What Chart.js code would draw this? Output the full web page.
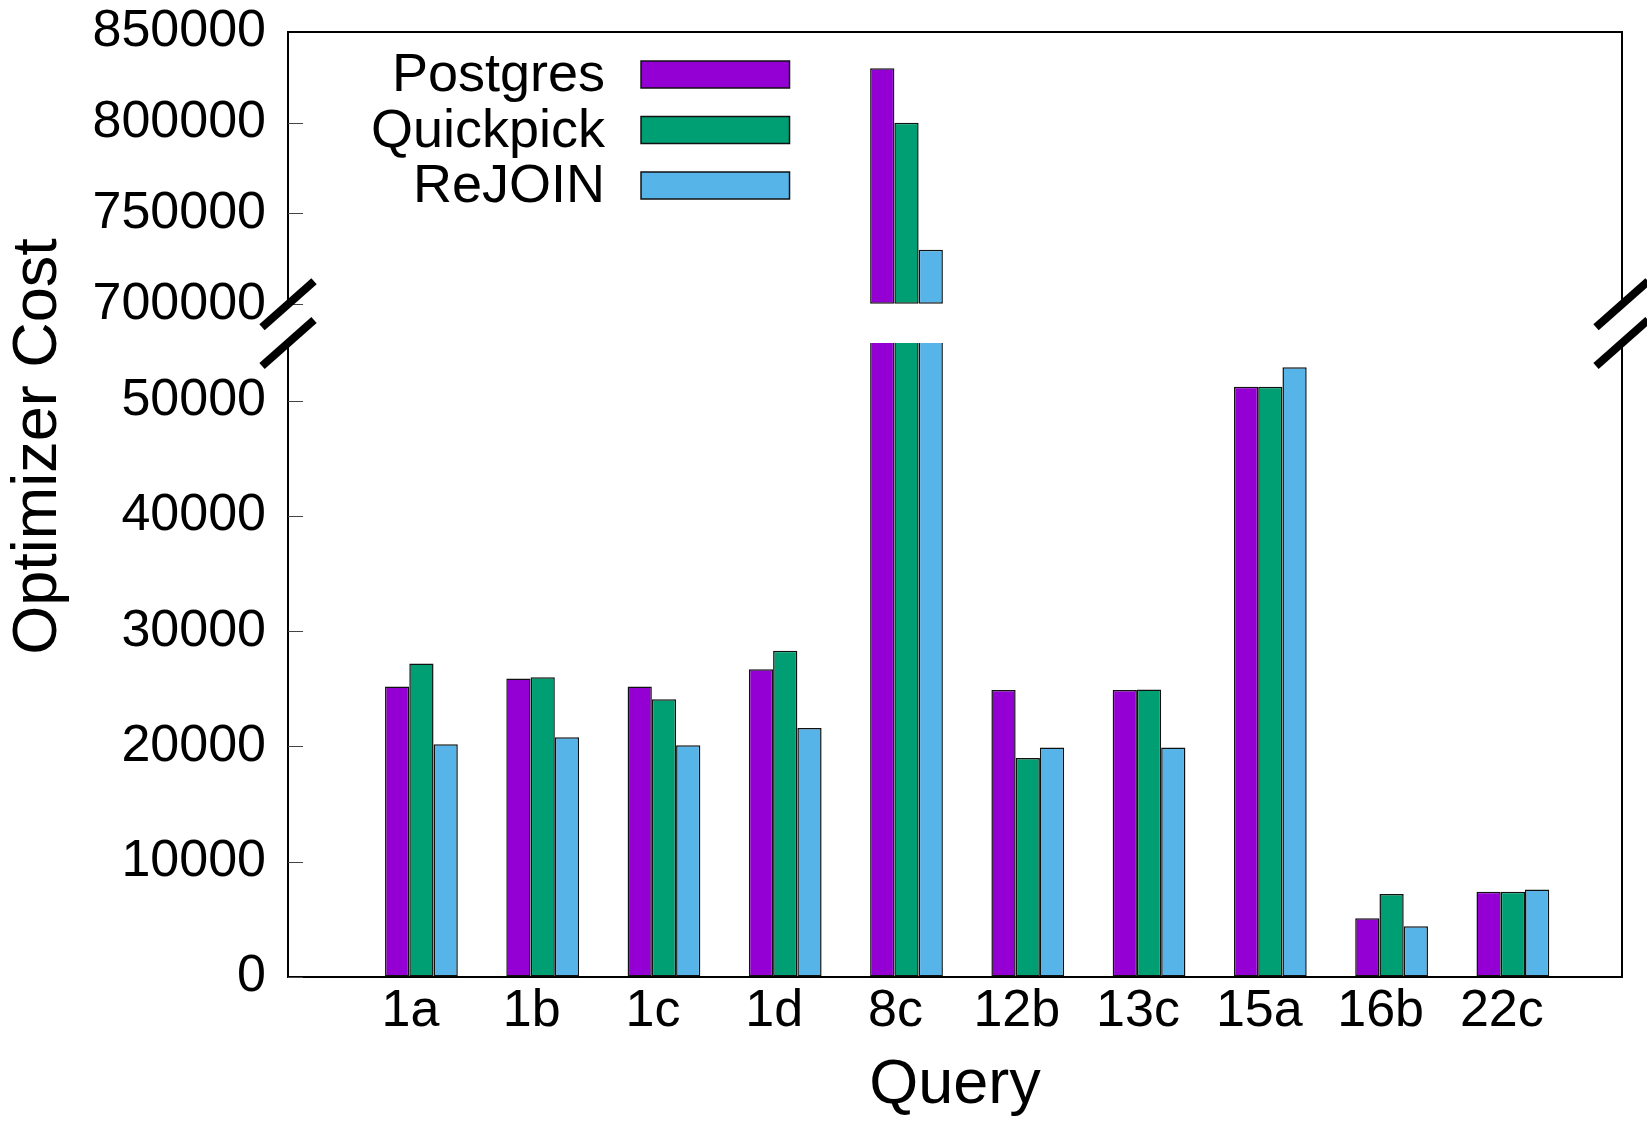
<!DOCTYPE html>
<html>
<head>
<meta charset="utf-8">
<title>Optimizer Cost per Query</title>
<script src="https://cdn.jsdelivr.net/npm/chart.js@4.4.1/dist/chart.umd.min.js"></script>
<style>
  html, body { margin: 0; padding: 0; background: #fff; }
  #wrap { width: 1647px; height: 1127px; }
</style>
</head>
<body>
<div id="wrap"><canvas id="costChart" width="1647" height="1127"></canvas></div>
<script>
// data
var queries   = ['1a', '1b', '1c', '1d', '8c', '12b', '13c', '15a', '16b', '22c'];
var postgres  = [25200, 25900, 25200, 26700, 830000, 24900, 24900, 51200, 5100, 7400];
var quickpick = [27200, 26000, 24100, 28300, 800000, 19000, 24950, 51200, 7200, 7400];
var rejoin    = [20200, 20800, 20100, 21600, 730000, 19900, 19900, 52900, 4400, 7600];

var seriesNames  = ['Postgres', 'Quickpick', 'ReJOIN'];
var seriesColors = ['#9400d3', '#009e73', '#56b4e9'];

// broken y axis: lower and upper range with their tick values
var lowerMin = 0,      lowerMax = 55000;
var upperMin = 700000, upperMax = 850000;
var lowerTicks = [0, 10000, 20000, 30000, 40000, 50000];
var upperTicks = [700000, 750000, 800000, 850000];

var queryPos = queries.map(function (q, i) { return i + 1; });
var FONT = "'Liberation Sans', Arial, Helvetica, sans-serif";

Chart.defaults.font.family = FONT;
Chart.defaults.color = '#000';

var values = [postgres, quickpick, rejoin];
var datasets = [];

// lower panel bars
for (var s = 0; s < values.length; s++) {
    datasets.push({
        label: seriesNames[s],
        data: values[s],
        yAxisID: 'y',
        stack: 's' + s,
        backgroundColor: seriesColors[s],
        borderColor: '#111',
        borderWidth: 1.5,
        borderSkipped: false,
        categoryPercentage: 0.6,
        barPercentage: 1.0
    });
}
// upper panel bars (only values above the break)
for (var s = 0; s < values.length; s++) {
    datasets.push({
        label: seriesNames[s] + ' upper',
        data: values[s].map(function (v) { return v >= upperMin ? v : null; }),
        base: upperMin,
        yAxisID: 'y2',
        stack: 's' + s,
        backgroundColor: seriesColors[s],
        borderColor: '#111',
        borderWidth: 1.5,
        borderSkipped: false,
        categoryPercentage: 0.6,
        barPercentage: 1.0
    });
}

function plainNumber(v) { return String(v); }
function fixedTicks(list) {
    return function (axis) {
        axis.ticks = list.map(function (v) { return { value: v }; });
    };
}

// frame, inward ticks, break marks, key and y title
var decorPlugin = {
    id: 'decor',
    afterDraw: function (chart) {
        var ctx = chart.ctx;
        var area = chart.chartArea;
        var low = chart.scales.y, up = chart.scales.y2;
        ctx.save();

        ctx.strokeStyle = '#444';
        ctx.lineWidth = 1;
        [low, up].forEach(function (sc) {
            sc.ticks.forEach(function (t) {
                var py = Math.round(sc.getPixelForValue(t.value)) + 0.5;
                ctx.beginPath();
                ctx.moveTo(area.left, py);
                ctx.lineTo(area.left + 15, py);
                ctx.stroke();
            });
        });

        ctx.strokeStyle = '#000';
        ctx.lineWidth = 2;
        ctx.beginPath();
        ctx.moveTo(area.left, area.top);
        ctx.lineTo(area.right, area.top);
        ctx.lineTo(area.right, up.bottom);
        ctx.moveTo(area.right, low.top);
        ctx.lineTo(area.right, area.bottom);
        ctx.stroke();

        ctx.lineWidth = 8;
        ctx.lineCap = 'butt';
        [area.left, area.right].forEach(function (x) {
            [up.bottom, low.top].forEach(function (yc) {
                ctx.beginPath();
                ctx.moveTo(x - 26, yc + 23);
                ctx.lineTo(x + 26, yc - 23);
                ctx.stroke();
            });
        });

        // key, text left of the swatch
        ctx.font = '54px ' + FONT;
        ctx.textAlign = 'right';
        ctx.textBaseline = 'middle';
        for (var i = 0; i < seriesNames.length; i++) {
            var ds = chart.data.datasets[i];
            var rowY = area.top + 42.5 + i * 55.5;
            ctx.fillStyle = '#000';
            ctx.fillText(ds.label, area.left + 317, rowY + 2);
            ctx.fillStyle = ds.backgroundColor;
            ctx.fillRect(area.left + 353, rowY - 13.5, 148.5, 27);
            ctx.lineWidth = 1.5;
            ctx.strokeStyle = '#111';
            ctx.strokeRect(area.left + 353, rowY - 13.5, 148.5, 27);
        }

        ctx.translate(area.left - 249, area.top + 414.5);
        ctx.rotate(-Math.PI / 2);
        ctx.textAlign = 'center';
        ctx.fillStyle = '#000';
        ctx.font = '63px ' + FONT;
        ctx.fillText('Optimizer Cost', 0, 0);

        ctx.restore();
    }
};

var ctx1 = document.getElementById('costChart').getContext('2d');
var costChart = new Chart(ctx1, {
    type: 'bar',
    data: { labels: queryPos, datasets: datasets },
    options: {
        responsive: false,
        animation: false,
        devicePixelRatio: 1,
        layout: { padding: { left: 86.5, right: 25, top: 0, bottom: 0 } },
        plugins: {
            legend: { display: false },
            tooltip: { enabled: false }
        },
        scales: {
            x: {
                type: 'linear',
                offset: false,
                min: -0.1,
                max: 10.9,
                grid: { display: false, drawTicks: false, offset: false },
                border: { display: true, color: '#000', width: 2 },
                afterBuildTicks: fixedTicks(queryPos),
                ticks: {
                    autoSkip: false,
                    maxRotation: 0,
                    padding: 3,
                    labelOffset: -11,
                    font: { size: 52 },
                    callback: function (v) { return queries[queryPos.indexOf(v)]; }
                },
                title: {
                    display: true,
                    text: 'Query',
                    font: { size: 63 },
                    padding: { top: 2, bottom: 4 }
                }
            },
            y: {
                type: 'linear',
                position: 'left',
                stack: 'cost',
                stackWeight: 634.2,
                weight: 0,
                stacked: false,
                min: lowerMin,
                max: lowerMax,
                afterBuildTicks: fixedTicks(lowerTicks),
                grid: { display: true, drawOnChartArea: false, drawTicks: true, tickLength: 16, tickColor: 'rgba(0,0,0,0)' },
                border: { display: true, color: '#000', width: 2 },
                ticks: { autoSkip: false, padding: 6, font: { size: 52, lineHeight: 1 }, callback: plainNumber }
            },
            gap: {
                type: 'linear',
                position: 'left',
                stack: 'cost',
                stackWeight: 38.8,
                weight: 1,
                grid: { display: false, drawTicks: false },
                border: { display: false },
                ticks: { display: false }
            },
            y2: {
                type: 'linear',
                position: 'left',
                stack: 'cost',
                stackWeight: 272.3,
                weight: 2,
                stacked: false,
                min: upperMin,
                max: upperMax,
                afterBuildTicks: fixedTicks(upperTicks),
                grid: { display: true, drawOnChartArea: false, drawTicks: true, tickLength: 16, tickColor: 'rgba(0,0,0,0)' },
                border: { display: true, color: '#000', width: 2 },
                ticks: { autoSkip: false, padding: 6, font: { size: 52, lineHeight: 1 }, callback: plainNumber }
            }
        }
    },
    plugins: [decorPlugin]
});
</script>
</body>
</html>
